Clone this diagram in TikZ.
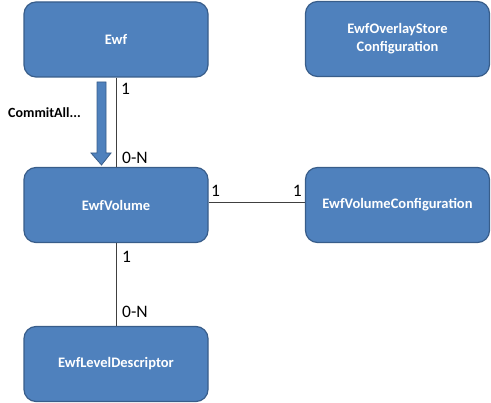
\documentclass[tikz,border=0pt]{standalone}
\usepackage{fontspec}
\setmainfont{Carlito}
\definecolor{boxfill}{HTML}{4F81BD}
\definecolor{boxline}{HTML}{385D8A}
\definecolor{lineclr}{HTML}{404040}
\begin{document}
\begin{tikzpicture}[x=1pt,y=-1pt,
  ent/.style={draw=boxline, line width=1.2pt, fill=boxfill, rounded corners=12pt,
    minimum width=184pt, minimum height=75pt, text=white, align=center,
    font=\fontsize{14.5}{18}\selectfont\bfseries, inner sep=0pt},
  lbl/.style={font=\fontsize{17.5}{20}\selectfont, text=black, inner sep=0pt},
  conn/.style={draw=lineclr, line width=0.9pt}]
\useasboundingbox (0,0) rectangle (491,403);
\node[ent] (ewf) at (116,39.5) {Ewf};
\node[ent] (ovl) at (397.5,39) {EwfOverlayStore\\Configuration};
\node[ent] (vol) at (116,205) {EwfVolume};
\node[ent] (cfg) at (397.5,205) {EwfVolumeConfiguration};
\node[ent] (lvl) at (116,364) {EwfLevelDescriptor};
\draw[conn] (ewf.south) -- (vol.north);
\draw[conn] (vol.east |- 0,202) coordinate (va) -- (cfg.west |- 0,202) coordinate (cb);
\draw[conn] (vol.south) -- (lvl.north);
\node[lbl, anchor=west] (l1) at (121,89) {1};
\node[lbl, anchor=west] (l2) at (122,158) {0-N};
\node[lbl, anchor=west] (l3) at (211,191) {1};
\node[lbl, anchor=east] (l4) at (302,191) {1};
\node[lbl, anchor=west] (l5) at (122,257) {1};
\node[lbl, anchor=west] (l6) at (122,312) {0-N};
\node[font=\fontsize{14}{17}\selectfont\bfseries, anchor=west, inner sep=0pt] (commit) at (8,113) {CommitAll...};
\coordinate (at) at (101.5,165);
\draw[draw=boxline, fill=boxfill, line width=0.8pt]
  (97,82) -- (106,82) -- (106,153) -- (111,153) -- (at) -- (91,153) -- (97,153) -- cycle;
\end{tikzpicture}
\end{document}
